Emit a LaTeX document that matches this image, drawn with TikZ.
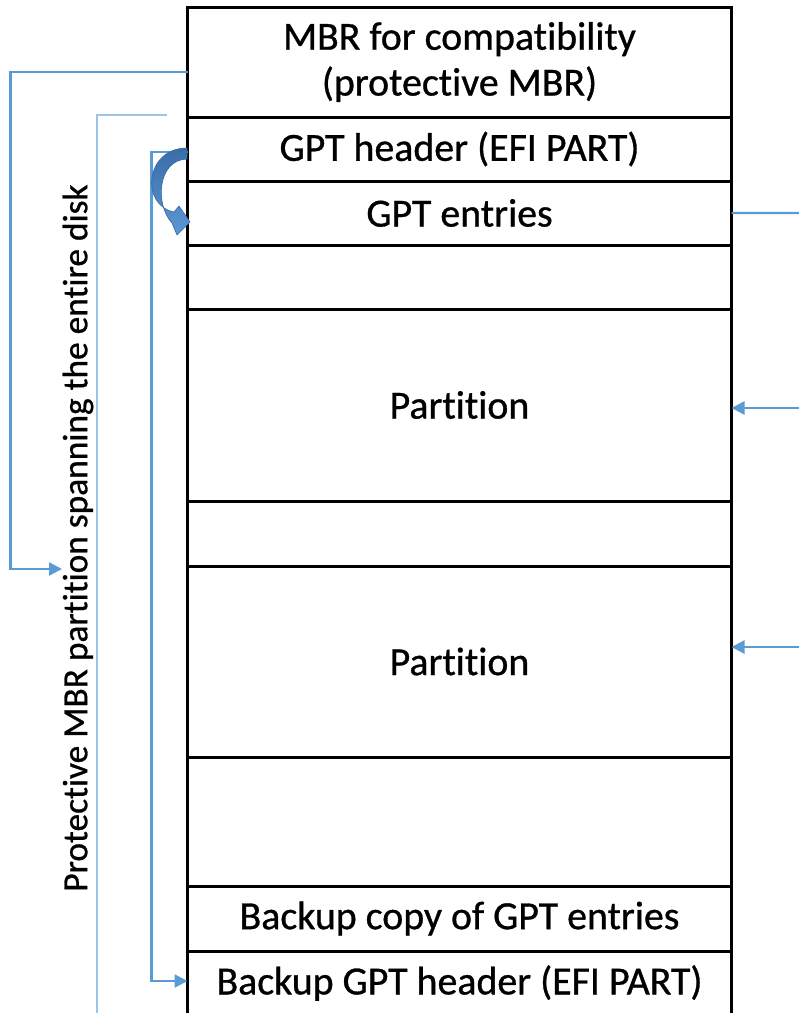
\documentclass[tikz,border=0pt]{standalone}
\usepackage{fontspec}
\setmainfont{Carlito}[Ligatures=NoCommon,FakeBold=0.8]
\usetikzlibrary{arrows.meta,calc}
\definecolor{linkblue}{RGB}{91,155,213}
\definecolor{paleblue}{RGB}{157,195,230}
\definecolor{curltop}{RGB}{58,108,168}
\definecolor{curlbottom}{RGB}{92,152,212}
\definecolor{curledge}{RGB}{55,105,160}
\begin{document}
\begin{tikzpicture}[x=1bp,y=-1bp,
  diskrow/.style={draw=black,line width=3bp,minimum width=544bp,inner sep=0pt,outer sep=0pt,anchor=north west,font=\fontsize{40}{46}\selectfont,align=center},
  link/.style={draw=linkblue,line width=2.4bp},
  thinlink/.style={draw=paleblue,line width=1.6bp},
  tip/.style={-{Triangle[length=13bp,width=13bp]}}]
\useasboundingbox (0,0) rectangle (799,1013);
\clip (0,0) rectangle (799,1013);
% disk layout, one row per region
\node[diskrow,minimum height=110bp] (mbr) at (187.5,7) {MBR for compatibility\\(protective MBR)};
\node[diskrow,minimum height=64bp] (hdr) at (187.5,117) {GPT header (EFI PART)};
\node[diskrow,minimum height=64bp] (ent) at (187.5,181) {GPT entries};
\node[diskrow,minimum height=64bp] (gapa) at (187.5,245) {};
\node[diskrow,minimum height=192bp] (pa) at (187.5,309) {Partition};
\node[diskrow,minimum height=65bp] (gapb) at (187.5,501) {};
\node[diskrow,minimum height=191bp] (pb) at (187.5,566) {Partition};
\node[diskrow,minimum height=129bp] (gapc) at (187.5,757) {};
\node[diskrow,minimum height=65bp] (bent) at (187.5,886) {Backup copy of GPT entries};
\node[diskrow,minimum height=64bp] (bhdr) at (187.5,951) {Backup GPT header (EFI PART)};
% side label
\node[rotate=90,font=\fontsize{35.5}{40}\selectfont,inner sep=0pt] (span) at (78,538) {Protective MBR partition spanning the entire disk};
\coordinate (spanin) at (62,569);
\coordinate (palea) at (167,115);
\coordinate (paleb) at (97,1020);
\coordinate (entout) at (799,213);
\coordinate (pain) at (799,408);
\coordinate (pbin) at (799,647);
% protective MBR entry
\draw[link,tip] ($(mbr.west)+(0,10)$) -- ++(-177,0) |- (spanin);
% extent of the whole disk
\draw[thinlink] (palea) -| (paleb);
% primary header points to its backup
\draw[link,tip] ($(hdr.west)+(0,3)$) -- ++(-36,0) |- ($(bhdr.west)+(0,-2)$);
% entries point to the partitions
\draw[link] (ent.east) -- (entout);
\draw[link,tip] (pain) -- (pa.east |- pain);
\draw[link,tip] (pbin) -- (pb.east |- pbin);
% header points to the entry array
\path[top color=curltop,bottom color=curlbottom,draw=curledge,line width=0.6bp]
  (187,148) .. controls (145,148) and (140,205) .. (174,212)
  -- (179,206) -- (190,222) -- (177,235) -- (172,223)
  .. controls (155,205) and (157,160) .. (187,159) -- cycle;
\end{tikzpicture}
\end{document}
